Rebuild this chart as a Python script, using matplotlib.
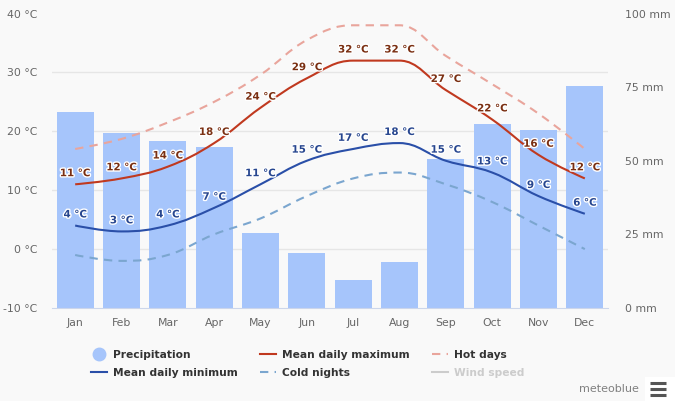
import numpy as np
import matplotlib
matplotlib.use('Agg')
import matplotlib.pyplot as plt
import matplotlib.patheffects as pe
from matplotlib.lines import Line2D
from matplotlib.patches import PathPatch, Rectangle
from matplotlib.path import Path

# values
months = ['Jan', 'Feb', 'Mar', 'Apr', 'May', 'Jun', 'Jul', 'Aug', 'Sep', 'Oct', 'Nov', 'Dec']
precip = [66.5, 59.4, 56.7, 54.6, 25.5, 18.7, 9.5, 15.6, 50.6, 62.5, 60.4, 75.4]
temp_max = [11, 12, 14, 18, 24, 29, 32, 32, 27, 22, 16, 12]
temp_min = [4, 3, 4, 7, 11, 15, 17, 18, 15, 13, 9, 6]
hot_days = [17, 18.7, 21.5, 25, 29.6, 35.5, 38, 38, 32.8, 28, 23, 17]
cold_nights = [-1, -2, -1, 2.5, 5.2, 9, 12, 13, 11, 8, 4, 0]
temp_ticks = [-10, 0, 10, 20, 30, 40]
precip_ticks = [0, 25, 50, 75, 100]

BG = '#f9f9f9'
BAR = '#a6c5fb'
RED = '#c0391f'
BLUE = '#2a4fa8'
HOT = '#e9a59c'
COLD = '#7ba6cf'
W, H = 675, 401


def spline_path(xs, ys, smoothing=1.5):
    # same kind of curve the original chart library draws between points
    denom = smoothing + 1
    verts = [(xs[0], ys[0])]
    codes = [Path.MOVETO]
    right = (xs[0], ys[0])
    for i in range(1, len(xs)):
        x, y = xs[i], ys[i]
        if i < len(xs) - 1:
            prev_y, next_y = ys[i - 1], ys[i + 1]
            lx = (smoothing * x + xs[i - 1]) / denom
            ly = (smoothing * y + prev_y) / denom
            rx = (smoothing * x + xs[i + 1]) / denom
            ry = (smoothing * y + next_y) / denom
            corr = (ry - ly) * (rx - x) / (rx - lx) + y - ry
            ly += corr
            ry += corr
            # no overshoot past the neighbours
            if ly > prev_y and ly > y:
                ly = max(prev_y, y)
                ry = 2 * y - ly
            elif ly < prev_y and ly < y:
                ly = min(prev_y, y)
                ry = 2 * y - ly
            if ry > next_y and ry > y:
                ry = max(next_y, y)
                ly = 2 * y - ry
            elif ry < next_y and ry < y:
                ry = min(next_y, y)
                ly = 2 * y - ry
        else:
            lx, ly, rx, ry = x, y, x, y
        verts += [right, (lx, ly), (x, y)]
        codes += [Path.CURVE4] * 3
        right = (rx, ry)
    return Path(verts, codes)


fig = plt.figure(figsize=(W / 100, H / 100), dpi=100, facecolor=BG)
left, right_px, top, bottom = 52, 608, 13.5, 308
rect = [left / W, 1 - bottom / H, (right_px - left) / W, (bottom - top) / H]

ax_p = fig.add_axes(rect, facecolor=BG)
ax_t = ax_p.twinx()

x = np.arange(12)
ax_p.bar(x, precip, width=0.8, color=BAR, zorder=2)
ax_p.set_xlim(-0.5, 11.5)
ax_p.set_ylim(0, 100)
ax_p.yaxis.tick_right()
ax_p.set_yticks(precip_ticks)
ax_p.set_yticklabels([f'{t} mm' for t in precip_ticks])
# grid follows the temperature ticks but has to stay behind the bars
ax_p.set_yticks([(t + 10) * 2 for t in temp_ticks], minor=True)
ax_p.set_xticks(x)
ax_p.set_xticklabels(months)
ax_p.grid(axis='y', which='minor', color='#e6e6e6', lw=1, zorder=1)
ax_p.set_axisbelow(True)
ax_p.tick_params(axis='y', which='both', length=0)
ax_p.tick_params(axis='y', pad=12, labelsize=7.8, labelcolor='#666666')
ax_p.tick_params(axis='x', length=0, pad=7, labelsize=7.8, labelcolor='#666666')
for s in ['top', 'left', 'right']:
    ax_p.spines[s].set_visible(False)
ax_p.spines['bottom'].set_color('#ccd6eb')

ax_t.patch.set_visible(False)
ax_t.set_ylim(-10, 40)
ax_t.yaxis.tick_left()
ax_t.set_yticks(temp_ticks)
ax_t.set_yticklabels([f'{t} °C' for t in temp_ticks])
ax_t.tick_params(axis='y', length=0, pad=10.5, labelsize=7.8, labelcolor='#666666')
for s in ax_t.spines.values():
    s.set_visible(False)

for vals, col, style in [(hot_days, HOT, (0, (4, 3))),
                         (cold_nights, COLD, (0, (4, 3))),
                         (temp_max, RED, '-'),
                         (temp_min, BLUE, '-')]:
    ax_t.add_patch(PathPatch(spline_path(x, vals), fill=False, edgecolor=col,
                             lw=1.5, linestyle=style, zorder=3))

for vals, col in [(temp_max, '#7a2f12'), (temp_min, '#27468f')]:
    for xi, v in zip(x, vals):
        ax_t.annotate(f'{v} °C', (xi, v), xytext=(0, 8), textcoords='offset points',
                      ha='center', va='center', fontsize=7.4, fontweight='bold', color=col,
                      zorder=5, path_effects=[pe.withStroke(linewidth=2, foreground='white')])

handles = [
    Line2D([], [], ls='none', marker='o', ms=9, color=BAR),
    Line2D([], [], color=BLUE, lw=1.5),
    Line2D([], [], color=RED, lw=1.5),
    Line2D([], [], color=COLD, lw=1.5, ls=(0, (4, 3))),
    Line2D([], [], color=HOT, lw=1.5, ls=(0, (4, 3))),
    Line2D([], [], color='#cccccc', lw=1.5),
]
labels = ['Precipitation', 'Mean daily minimum', 'Mean daily maximum',
          'Cold nights', 'Hot days', 'Wind speed']
leg = fig.legend(handles, labels, ncol=3, loc='upper left', frameon=False,
                 bbox_to_anchor=(91 / W, 1 - 350 / H), borderaxespad=0, borderpad=0,
                 handlelength=1.5, handletextpad=0.56, columnspacing=2.1, labelspacing=0.77,
                 prop={'size': 7.7, 'weight': 'bold'}, labelcolor='#333333')
leg.get_texts()[-1].set_color('#cccccc')

fig.text(639 / W, 1 - 389 / H, 'meteoblue', ha='right', va='center', fontsize=8, color='#808080')
fig.add_artist(Rectangle((645 / W, 1 - 401 / H), 30 / W, 24 / H, transform=fig.transFigure,
                         facecolor='white', edgecolor='none'))
for py in (383, 389, 395):
    fig.add_artist(Line2D([649.5 / W, 666 / W], [1 - py / H] * 2, transform=fig.transFigure,
                          color='#555555', lw=2.2, solid_capstyle='butt'))

fig.savefig('out.png', dpi=100, facecolor=BG)
